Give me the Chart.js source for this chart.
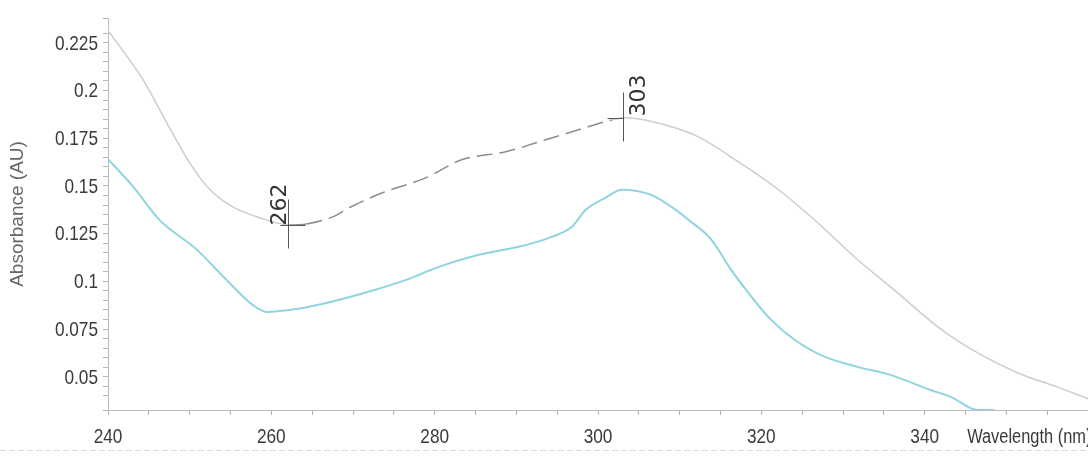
<!DOCTYPE html>
<html>
<head>
<meta charset="utf-8">
<script src="https://cdn.jsdelivr.net/npm/chart.js@4.4.1/dist/chart.umd.min.js"></script>
<style>
  html, body { margin: 0; padding: 0; background: #fff; overflow: hidden; }
  #wrap { width: 1088px; height: 456px; }
</style>
</head>
<body>
<div id="wrap"><canvas id="spectrum"></canvas></div>
<script>
// upper (grey) trace
let grayNm  = [240, 244.3, 247.2, 250, 252.5, 255.3, 258.6, 262.2, 264.3, 267.5, 269.5, 273.6, 278.9, 283.3, 288.7, 293.6, 297.6, 301.7, 303.4, 309, 312.3, 317.2, 322.1, 326.9, 331.8, 336.7, 341.6, 346.5, 351.4, 356.2, 360];
let grayAbs = [0.2315, 0.2056, 0.1831, 0.1621, 0.148, 0.139, 0.1333, 0.1296, 0.1301, 0.1338, 0.1385, 0.1464, 0.1542, 0.1637, 0.1679, 0.1742, 0.1794, 0.1846, 0.1857, 0.181, 0.1757, 0.1626, 0.148, 0.1307, 0.1113, 0.094, 0.0762, 0.0625, 0.052, 0.0447, 0.0385];

// lower (cyan) trace
let blueNm  = [240, 243.1, 246.3, 250.9, 254.5, 257.7, 259.4, 263.4, 267.5, 272.4, 276.5, 280.5, 285.4, 290.3, 294, 296.8, 298.5, 300.9, 302.9, 306.5, 309, 311.1, 313.9, 316.3, 318.8, 321.2, 324.1, 327.8, 331.8, 335.8, 340.7, 343.2, 346.5, 348.5];
let blueAbs = [0.164, 0.1495, 0.1322, 0.1165, 0.1008, 0.0877, 0.084, 0.0858, 0.0895, 0.0952, 0.1008, 0.1076, 0.1139, 0.1181, 0.1228, 0.1286, 0.1375, 0.1438, 0.148, 0.1453, 0.139, 0.1322, 0.1218, 0.106, 0.0919, 0.0798, 0.0693, 0.0604, 0.0552, 0.051, 0.0431, 0.0395, 0.0326, 0.0326];

// peak / valley marks
let markNm  = [262, 303];
let markAbs = [0.1296, 0.1857];

let xTickLabels = [240, 260, 280, 300, 320, 340];
let yTickLabels = [0.05, 0.075, 0.1, 0.125, 0.15, 0.175, 0.2, 0.225];

let sans = "'Liberation Sans', Arial, sans-serif";

function toPoints(xs, ys) {
    return xs.map(function(x, i) { return { x: x, y: ys[i] }; });
}

// narrow-looking text: squeeze regular sans horizontally
function narrowText(ctx, text, x, y, align) {
    ctx.save();
    ctx.translate(x, y);
    ctx.scale(0.82, 1);
    ctx.textAlign = align;
    ctx.textBaseline = 'middle';
    ctx.fillText(text, 0, 0);
    ctx.restore();
}

// tick labels, crosses with rotated wavelength numbers, x caption
const markPlugin = {
    id: 'marks',
    afterDatasetsDraw(chart) {
        const ctx = chart.ctx;
        const xs = chart.scales.x, ys = chart.scales.y;
        ctx.save();

        ctx.fillStyle = '#3a3a3a';
        ctx.font = '21px ' + sans;
        yTickLabels.forEach(function(v) {
            narrowText(ctx, String(v), ys.right - 10, ys.getPixelForValue(v) + 1, 'right');
        });
        xTickLabels.forEach(function(v) {
            narrowText(ctx, String(v), xs.getPixelForValue(v), xs.top + 27, 'center');
        });
        ctx.font = '20px ' + sans;
        narrowText(ctx, 'Wavelength (nm)', xs.getPixelForValue(345.2), xs.top + 27, 'left');

        ctx.strokeStyle = '#555';
        ctx.lineWidth = 1;
        ctx.fillStyle = '#333';
        ctx.font = "22px 'DejaVu Sans', sans-serif";
        markNm.forEach(function(nm, i) {
            const px = Math.round(xs.getPixelForValue(nm)) + 0.5;
            const py = Math.round(ys.getPixelForValue(markAbs[i])) + 0.5;
            ctx.beginPath();
            ctx.moveTo(px, py - 26);
            ctx.lineTo(px, py + 23);
            if (i === 0) {
                ctx.moveTo(px - 8, py);
                ctx.lineTo(px + 17, py);
            } else {
                ctx.moveTo(px - 16, py);
                ctx.lineTo(px, py);
            }
            ctx.stroke();

            ctx.save();
            ctx.translate(px, py);
            ctx.rotate(-Math.PI / 2);
            ctx.textAlign = 'left';
            if (i === 0) {
                ctx.textBaseline = 'alphabetic';
                ctx.fillText(String(nm), 0, -3);
            } else {
                ctx.textBaseline = 'top';
                ctx.fillText(String(nm), 2, 5);
            }
            ctx.restore();
        });

        // faint rule near the bottom edge
        ctx.strokeStyle = 'rgba(150,150,150,0.35)';
        ctx.setLineDash([6, 3]);
        ctx.beginPath();
        ctx.moveTo(0, chart.height - 5.5);
        ctx.lineTo(chart.width, chart.height - 5.5);
        ctx.stroke();
        ctx.restore();
    }
};

new Chart(document.getElementById('spectrum'), {

    type: 'line',

    data: {
        datasets: [
            // grey scan
            {
                label: 'scan 1',
                data: toPoints(grayNm, grayAbs),
                borderColor: '#cdcdcd',
                borderWidth: 1.5,
                pointRadius: 0,
                cubicInterpolationMode: 'monotone',
                fill: false,
                segment: {
                    borderColor: function(c) {
                        const x = c.p0.parsed.x;
                        return (x >= 262 && x < 298) ? '#8c8c8c' : undefined;
                    },
                    borderDash: function(c) {
                        const x = c.p0.parsed.x;
                        return (x >= 264 && x < 298) ? [16, 7] : undefined;
                    }
                }
            },
            // cyan scan
            {
                label: 'scan 2',
                data: toPoints(blueNm, blueAbs),
                borderColor: '#8fd4de',
                borderWidth: 2,
                pointRadius: 0,
                cubicInterpolationMode: 'monotone',
                fill: false
            }
        ]
    },

    options: {
        responsive: true,
        maintainAspectRatio: false,
        animation: false,
        layout: {
            padding: { top: 18, right: 0, left: 0, bottom: 0 }
        },
        plugins: {
            legend: { display: false },
            tooltip: { enabled: false }
        },
        scales: {
            x: {
                type: 'linear',
                min: 240,
                max: 360,
                afterFit: function(scale) {
                    scale.height = 46;
                    scale.paddingLeft = 0;
                    scale.paddingRight = 0;
                },
                border: { display: true, color: '#bdbdbd', width: 1 },
                grid: {
                    drawOnChartArea: false,
                    drawTicks: true,
                    tickLength: 5,
                    color: '#b5b5b5'
                },
                ticks: {
                    stepSize: 5,
                    autoSkip: false,
                    maxRotation: 0,
                    callback: function() { return ''; }
                }
            },
            y: {
                type: 'linear',
                min: 0.0326,
                max: 0.238,
                afterFit: function(scale) {
                    scale.width = 108;
                    scale.paddingTop = 0;
                    scale.paddingBottom = 0;
                },
                border: { display: true, color: '#bdbdbd', width: 1 },
                grid: {
                    drawOnChartArea: false,
                    drawTicks: true,
                    tickLength: 5,
                    color: '#b5b5b5'
                },
                title: {
                    display: true,
                    text: 'Absorbance (AU)',
                    color: '#666',
                    font: { family: sans, size: 19 },
                    padding: { top: 6, bottom: 0 }
                },
                ticks: {
                    stepSize: 0.005,
                    autoSkip: false,
                    callback: function() { return ''; }
                }
            }
        }
    },

    plugins: [markPlugin]
});
</script>
</body>
</html>
